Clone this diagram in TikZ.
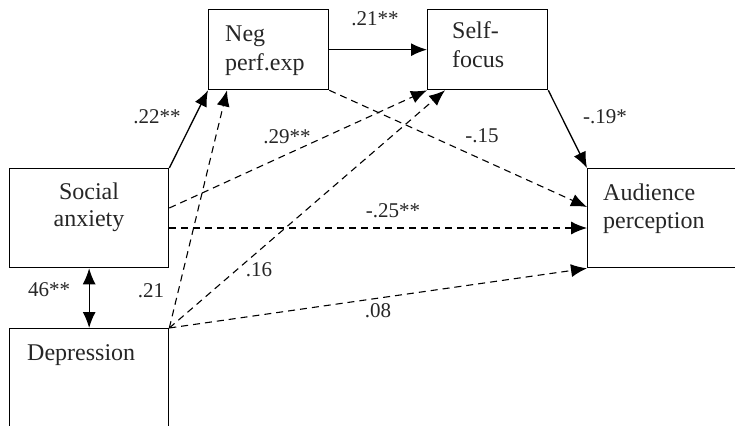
\documentclass[tikz,border=0pt]{standalone}
\usepackage{fontspec}
\setmainfont{Liberation Serif}
\usetikzlibrary{arrows.meta}
\begin{document}
\begin{tikzpicture}[x=1pt,y=-1pt,
  box/.style={draw=black,line width=1.3pt,inner sep=0pt,anchor=north west},
  boxtext/.style={font=\fontsize{24}{28}\selectfont,inner sep=0pt,text=black!85},
  coef/.style={font=\fontsize{21}{24}\selectfont,inner sep=0pt,text=black!85},
  tip/.style={-{Latex[length=16pt,width=13pt]}},
  path/.style={line width=1.3pt,tip},
  dpath/.style={path,line width=1.1pt,dash pattern=on 7pt off 5pt},
  both/.style={line width=1.3pt,{Latex[length=16pt,width=13pt]}-{Latex[length=16pt,width=13pt]}}]
\useasboundingbox (0,0) rectangle (735,425);
\clip (0,0) rectangle (735,425);

% boxes
\node[box,minimum width=159pt,minimum height=99pt] (sa) at (9,168) {};
\node[box,minimum width=159pt,minimum height=120pt] (dep) at (9,328) {};
\node[box,minimum width=120pt,minimum height=80pt] (npe) at (208,9) {};
\node[box,minimum width=120pt,minimum height=80pt] (sf) at (427,9) {};
\node[box,minimum width=170pt,minimum height=99pt] (ap) at (587,168) {};

% box texts
\node[boxtext,anchor=base] (satext1) at (89,199) {Social};
\node[boxtext,anchor=base] (satext2) at (89,226) {anxiety};
\node[boxtext,anchor=base west] (deptext) at (27,360) {Depression};
\node[boxtext,anchor=base west] (npetext1) at (225,42) {Neg};
\node[boxtext,anchor=base west] (npetext2) at (225,71) {perf.exp};
\node[boxtext,anchor=base west] (sftext1) at (452,39) {Self-};
\node[boxtext,anchor=base west] (sftext2) at (452,68) {focus};
\node[boxtext,anchor=base west] (aptext1) at (603,200) {Audience};
\node[boxtext,anchor=base west] (aptext2) at (603,228) {perception};

% anchor points on the box edges
\path (sa.north east) ++(0,40) coordinate (saR1);
\path (sa.north east) ++(0,60) coordinate (saR2);
\path (npe.south west) ++(19,0) coordinate (npeB);
\path (sf.south west) ++(18,0) coordinate (sfB);
\path (ap.north west) ++(0,39) coordinate (apL1);
\path (ap.north west) ++(0,60) coordinate (apL2);

% solid paths
\draw[path] (sa.north east) -- (npe.south west);
\draw[path] (npe.east) -- (sf.west);
\draw[path] (sf.south east) -- (ap.north west);
\draw[both] (sa.south) -- (dep.north);

% dashed paths
\draw[dpath] (npe.south east) -- (apL1);
\draw[dpath] (saR1) -- (sf.south west);
\draw[dpath] (saR2) -- (apL2);
\draw[dpath] (dep.north east) -- (npeB);
\draw[dpath] (dep.north east) -- (sfB);
\draw[dpath] (dep.north east) -- (ap.south west);

% coefficients
\node[coef] (c1) at (157,117) {.22**};
\node[coef] (c2) at (375,19) {.21**};
\node[coef] (c3) at (605,117) {-.19*};
\node[coef] (c4) at (482,136) {-.15};
\node[coef] (c5) at (287,137) {.29**};
\node[coef] (c6) at (393,211) {-.25**};
\node[coef] (c7) at (259,270) {.16};
\node[coef] (c8) at (151,291) {.21};
\node[coef] (c9) at (378,311) {.08};
\node[coef] (c10) at (49,290) {46**};
\end{tikzpicture}
\end{document}
